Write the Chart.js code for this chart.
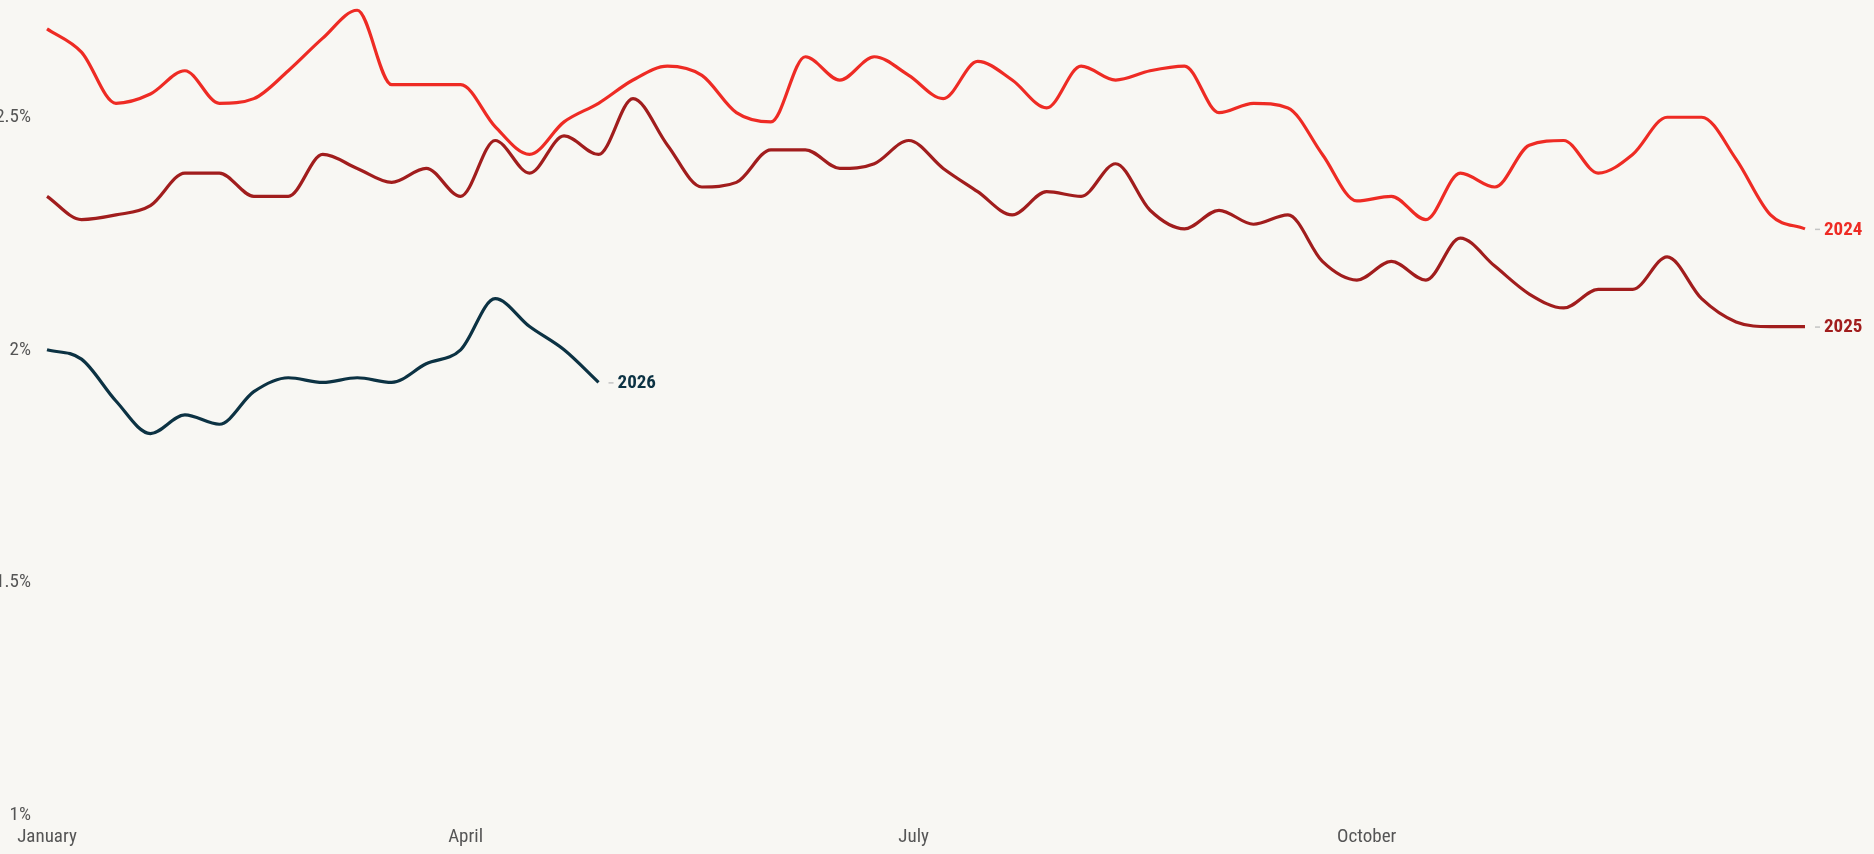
<!DOCTYPE html>
<html>
<head>
<meta charset="utf-8">
<script src="https://cdn.jsdelivr.net/npm/chart.js@4.4.1/dist/chart.umd.min.js"></script>
<style>
  html, body { margin: 0; padding: 0; background: #f8f7f3; overflow: hidden; }
  #wrap { position: absolute; left: -10px; top: 0; width: 1884px; height: 854px; }
</style>
</head>
<body>
<div id="wrap"><canvas id="c"></canvas></div>
<script>
// ---- data (weekly, first week of the year onward) ----
const seriesNames = ['2024', '2025', '2026'];
const values2024 = [2.69, 2.64, 2.53, 2.55, 2.60, 2.53, 2.54, 2.60, 2.67, 2.73,
  2.57, 2.57, 2.57, 2.48, 2.42, 2.49, 2.53, 2.58, 2.61, 2.59,
  2.51, 2.49, 2.63, 2.58, 2.63, 2.59, 2.54, 2.62, 2.58, 2.52,
  2.61, 2.58, 2.60, 2.61, 2.51, 2.53, 2.52, 2.42, 2.32, 2.33,
  2.28, 2.38, 2.35, 2.44, 2.45, 2.38, 2.42, 2.50, 2.50, 2.41,
  2.29, 2.26];
const values2025 = [2.33, 2.28, 2.29, 2.31, 2.38, 2.38, 2.33, 2.33, 2.42, 2.39,
  2.36, 2.39, 2.33, 2.45, 2.38, 2.46, 2.42, 2.54, 2.44, 2.35,
  2.36, 2.43, 2.43, 2.39, 2.40, 2.45, 2.39, 2.34, 2.29, 2.34,
  2.33, 2.40, 2.30, 2.26, 2.30, 2.27, 2.29, 2.19, 2.15, 2.19,
  2.15, 2.24, 2.18, 2.12, 2.09, 2.13, 2.13, 2.20, 2.11, 2.06,
  2.05, 2.05];
const values2026 = [2.00, 1.98, 1.89, 1.82, 1.86, 1.84, 1.91, 1.94, 1.93, 1.94,
  1.93, 1.97, 2.00, 2.11, 2.05, 2.00, 1.93];
const monthLabels = ['January', 'April', 'July', 'October'];
const monthTickDays = [0, 85, 176, 268];   // days after the first weekly reading
const yTickValues = [1, 1.5, 2, 2.5];
const yTickLabels = ['1%', '1.5%', '2%', '2.5%'];
const seriesColors = ['#ee2b24', '#a11d1d', '#0c3243'];

const FONT = "'Roboto Condensed','Liberation Sans Narrow','DejaVu Sans Condensed','Roboto',sans-serif";

function toPoints(arr) { return arr.map((v, i) => ({ x: i * 7, y: v })); }

const allSeries = [values2024, values2025, values2026];

const endLabels = {
  id: 'endLabels',
  afterDatasetsDraw(chart) {
    const ctx = chart.ctx;
    ctx.save();
    chart.data.datasets.forEach((ds, di) => {
      const meta = chart.getDatasetMeta(di);
      const pt = meta.data[meta.data.length - 1];
      if (!pt) return;
      const x = pt.x, y = pt.y;
      ctx.strokeStyle = '#c4c4c4';
      ctx.lineWidth = 1.5;
      ctx.beginPath();
      ctx.moveTo(x + 10, y + 0.5);
      ctx.lineTo(x + 15, y + 0.5);
      ctx.stroke();
      ctx.fillStyle = ds.borderColor;
      ctx.font = "bold 19px " + FONT;
      ctx.textAlign = 'left';
      ctx.textBaseline = 'middle';
      ctx.fillText(ds.label, x + 19, y + 1);
    });
    ctx.restore();
  }
};

new Chart(document.getElementById('c'), {
  type: 'line',
  data: {
    datasets: allSeries.map((arr, i) => ({
      label: seriesNames[i],
      data: toPoints(arr),
      borderColor: seriesColors[i],
      backgroundColor: seriesColors[i],
      borderWidth: 3.2,
      pointRadius: 0,
      cubicInterpolationMode: 'monotone',
      fill: false,
      clip: false
    }))
  },
  options: {
    responsive: true,
    maintainAspectRatio: false,
    animation: false,
    layout: { padding: { top: 0, right: 69, bottom: 0, left: 0 } },
    plugins: { legend: { display: false }, tooltip: { enabled: false } },
    scales: {
      x: {
        type: 'linear',
        min: 0,
        max: 357,
        grid: { display: false, drawTicks: false },
        border: { display: false },
        afterBuildTicks(scale) { scale.ticks = monthTickDays.map(v => ({ value: v })); },
        afterFit(scale) { scale.height = 39; },
        ticks: {
          padding: 11,
          autoSkip: false,
          maxRotation: 0,
          color: '#555',
          font: { family: FONT, size: 19 },
          callback: (v, i) => monthLabels[i]
        }
      },
      y: {
        type: 'linear',
        min: 1,
        max: 2.75,
        grid: { display: false, drawTicks: true, tickLength: 16 },
        border: { display: false },
        afterBuildTicks(scale) { scale.ticks = yTickValues.map(v => ({ value: v })); },
        afterFit(scale) { scale.width = 57; },
        ticks: {
          padding: 0,
          color: '#555',
          font: { family: FONT, size: 19, lineHeight: 0.1 },
          callback: (v, i) => yTickLabels[i]
        }
      }
    }
  },
  plugins: [endLabels]
});
</script>
</body>
</html>
